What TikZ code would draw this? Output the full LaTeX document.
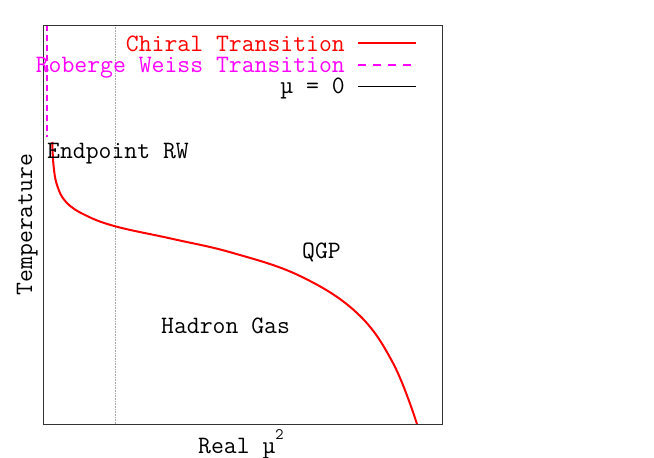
\documentclass[tikz,border=0pt]{standalone}
\usepackage{fontspec}
\definecolor{gred}{RGB}{255,0,0}
\definecolor{gmag}{RGB}{255,0,255}
\begin{document}
\begin{tikzpicture}[x=1pt,y=-1pt,
  lbl/.style={inner sep=0pt,font=\ttfamily\fontsize{25}{27}\selectfont},
  leg/.style={lbl,text height=0.6em,text depth=0.18em},
  frame/.style={draw=black!80,line width=1pt},
  chiral/.style={gred,line width=2pt},
  rw/.style={gmag,line width=2pt,dash pattern=on 6pt off 4pt},
  rwleg/.style={gmag,line width=2pt,dash pattern=on 8pt off 7pt},
  zero/.style={black,line width=1pt},
  guide/.style={gray!70,line width=0.6pt,densely dotted}]
\useasboundingbox (0,0) rectangle (654,458);
\coordinate (fTL) at (43,25);
\coordinate (fBR) at (442,424);
\coordinate (gTop) at (115,25);
\coordinate (gBot) at (115,424);
\draw[guide] (gTop) -- (gBot);
\coordinate (rwTop) at (47.3,25);
\coordinate (rwBot) at (47.3,137);
\draw[rw] (rwTop) -- (rwBot);
\draw[chiral] plot[smooth,tension=0.65] coordinates {(52.3,142) (53.5,165) (57,185) (66,202) (85,215) (116,226.5) (173,239) (233,253) (300,276) (357,313) (393,363) (417,424)};
\draw[frame] (fTL) rectangle (fBR);
% legend
\node[leg,anchor=base east,text=gred] (lc) at (345,51) {Chiral Transition};
\coordinate (lcA) at (358,42.5);
\coordinate (lcB) at (416,42.5);
\draw[chiral] (lcA) -- (lcB);
\node[leg,anchor=base east,text=gmag] (lr) at (345,72) {Roberge Weiss Transition};
\coordinate (lrA) at (358,64.5);
\coordinate (lrB) at (416,64.5);
\draw[rwleg] (lrA) -- (lrB);
\node[leg,anchor=base east] (lz) at (345,93) {µ = 0};
\coordinate (lzA) at (358,86);
\coordinate (lzB) at (416,86);
\draw[zero] (lzA) -- (lzB);
% labels
\node[lbl,anchor=base west] (ep) at (47,158) {Endpoint RW};
\node[lbl,anchor=base west] (qgp) at (302,258) {QGP};
\node[lbl,anchor=base west] (hg) at (161,333) {Hadron Gas};
\node[lbl,anchor=base,rotate=90] (temp) at (32,224.5) {Temperature};
\node[lbl,anchor=base west] (xl) at (198,453.5) {Real µ\raisebox{0.55em}{\fontsize{16}{16}\selectfont 2}};
\end{tikzpicture}
\end{document}
